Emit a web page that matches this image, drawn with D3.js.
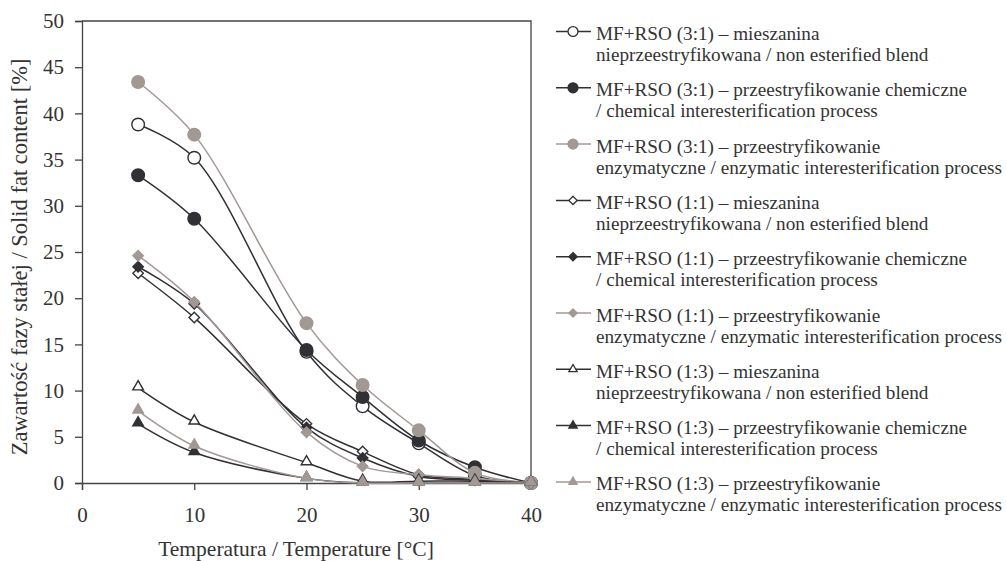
<!DOCTYPE html>
<html>
  <head>
    <title>Solid fat content</title>
    <meta charset="utf-8" />
    <style>
      body { margin: 0; background: #fff; }
    </style>
  </head>
  <body>
    <div id="chart"></div>
    <script src="https://d3js.org/d3.v7.min.js"></script>
    <script type="text/javascript">
        const temps = [5, 10, 20, 25, 30, 35, 40];
        const xTicks = [0, 10, 20, 30, 40];
        const yTicks = [0, 5, 10, 15, 20, 25, 30, 35, 40, 45, 50];

        const s31Blend = [38.8, 35.2, 14.2, 8.3, 4.3, 0.8, 0];
        const s31Chem = [33.3, 28.6, 14.4, 9.3, 4.6, 1.7, 0];
        const s31Enz = [43.4, 37.7, 17.3, 10.6, 5.7, 1.1, 0];
        const s11Blend = [22.7, 17.9, 6.4, 3.4, 0.9, 0.4, 0];
        const s11Chem = [23.4, 19.4, 6.0, 2.7, 0.7, 0.3, 0];
        const s11Enz = [24.6, 19.6, 5.5, 1.8, 0.9, 0.5, 0];
        const s13Blend = [10.3, 6.6, 2.2, 0.2, 0.2, 0.2, 0];
        const s13Chem = [6.4, 3.3, 0.5, 0, 0, 0, 0];
        const s13Enz = [7.8, 4.0, 0.5, 0, 0, 0, 0];

        const labels = [
            ["MF+RSO (3:1) – mieszanina", "nieprzeestryfikowana / non esterified blend"],
            ["MF+RSO (3:1) – przeestryfikowanie chemiczne", "/ chemical interesterification process"],
            ["MF+RSO (3:1) – przeestryfikowanie", "enzymatyczne / enzymatic interesterification process"],
            ["MF+RSO (1:1) – mieszanina", "nieprzeestryfikowana / non esterified blend"],
            ["MF+RSO (1:1) – przeestryfikowanie chemiczne", "/ chemical interesterification process"],
            ["MF+RSO (1:1) – przeestryfikowanie", "enzymatyczne / enzymatic interesterification process"],
            ["MF+RSO (1:3) – mieszanina", "nieprzeestryfikowana / non esterified blend"],
            ["MF+RSO (1:3) – przeestryfikowanie chemiczne", "/ chemical interesterification process"],
            ["MF+RSO (1:3) – przeestryfikowanie", "enzymatyczne / enzymatic interesterification process"]
        ];

        const dark = "#303035";
        const grey = "#a29894";
        const series = [
            { values: s31Blend, shape: "circle", fill: "#fff", stroke: dark, line: dark },
            { values: s31Chem, shape: "circle", fill: dark, stroke: dark, line: dark },
            { values: s31Enz, shape: "circle", fill: grey, stroke: grey, line: grey },
            { values: s11Blend, shape: "diamond", fill: "#fff", stroke: dark, line: dark },
            { values: s11Chem, shape: "diamond", fill: dark, stroke: dark, line: dark },
            { values: s11Enz, shape: "diamond", fill: grey, stroke: grey, line: grey },
            { values: s13Blend, shape: "triangle", fill: "#fff", stroke: dark, line: dark },
            { values: s13Chem, shape: "triangle", fill: dark, stroke: dark, line: dark },
            { values: s13Enz, shape: "triangle", fill: grey, stroke: grey, line: grey }
        ];

        const width = 1007;
        const height = 561;
        const margin = ({top: 21, left: 82, right: 531, bottom: 483});
        const serif = "'Liberation Serif', 'Times New Roman', Times, serif";

        const x = d3.scaleLinear().domain([0, 40]).range([margin.left, margin.right]);
        const y = d3.scaleLinear().domain([0, 50]).range([margin.bottom, margin.top]);

        const svg = d3.select("#chart")
            .append("svg")
            .attr("width", width)
            .attr("height", height)
            .attr("font-family", serif);

        // frame: top and right border
        svg.append("path")
            .attr("d", `M${margin.left},${margin.top}H${margin.right}V${margin.bottom}`)
            .attr("fill", "none")
            .attr("stroke", "#444")
            .attr("stroke-width", 1.3);

        svg.append("g")
            .attr("transform", `translate(0,${margin.bottom})`)
            .call(d3.axisBottom(x).tickValues(xTicks).tickSize(7).tickPadding(17))
            .attr("font-family", serif)
            .call(g => g.selectAll("path, line").attr("stroke", "#444").attr("stroke-width", 1.3))
            .call(g => g.selectAll("text").attr("font-size", 21).attr("fill", "#333"));

        svg.append("g")
            .attr("transform", `translate(${margin.left},0)`)
            .call(d3.axisLeft(y).tickValues(yTicks).tickSize(7).tickPadding(11))
            .attr("font-family", serif)
            .call(g => g.selectAll("path, line").attr("stroke", "#444").attr("stroke-width", 1.3))
            .call(g => g.selectAll("text").attr("font-size", 21).attr("fill", "#333"));

        svg.append("text")
            .attr("x", 296)
            .attr("y", 556)
            .attr("text-anchor", "middle")
            .attr("font-size", 21.5)
            .attr("fill", "#333")
            .text("Temperatura / Temperature [°C]");

        svg.append("text")
            .attr("transform", "translate(27,257) rotate(-90)")
            .attr("text-anchor", "middle")
            .attr("font-size", 22.5)
            .attr("fill", "#333")
            .text("Zawartość fazy stałej / Solid fat content [%]");

        const symbolFor = (shape, size) => {
            const type = shape === "circle" ? d3.symbolCircle
                : shape === "diamond" ? d3.symbolDiamond2
                : d3.symbolTriangle2;
            return d3.symbol().type(type).size(size)();
        };
        const markerSize = {circle: 125, diamond: 70, triangle: 80};

        const line = d3.line()
            .x((d, i) => x(temps[i]))
            .y(d => y(d))
            .curve(d3.curveCatmullRom.alpha(0.5));

        const lines = svg.append("g");
        series.forEach(s => {
            const g = lines.append("g");
            g.append("path")
                .attr("d", line(s.values))
                .attr("fill", "none")
                .attr("stroke", s.line)
                .attr("stroke-width", 1.5);
            g.selectAll("path.m")
                .data(s.values)
                .enter().append("path")
                .attr("class", "m")
                .attr("transform", (d, i) => `translate(${x(temps[i])},${y(d) + (s.shape === "triangle" ? -1 : 0)})`)
                .attr("d", symbolFor(s.shape, markerSize[s.shape]))
                .attr("fill", s.fill)
                .attr("stroke", s.stroke)
                .attr("stroke-width", 1.4);
        });

        // legend
        const legend = svg.append("g");
        series.forEach((s, i) => {
            const y0 = 31.5 + i * 56.3;
            const g = legend.append("g").attr("transform", `translate(0,${y0})`);
            g.append("line")
                .attr("x1", 556).attr("x2", 591)
                .attr("y1", 0).attr("y2", 0)
                .attr("stroke", s.line)
                .attr("stroke-width", 1.5);
            g.append("path")
                .attr("transform", "translate(573,0)")
                .attr("d", symbolFor(s.shape, markerSize[s.shape] * 0.62))
                .attr("fill", s.fill)
                .attr("stroke", s.stroke)
                .attr("stroke-width", 1.3);
            g.append("text")
                .attr("x", 596).attr("y", 8.5)
                .attr("font-size", 19.2)
                .attr("fill", "#333")
                .text(labels[i][0]);
            g.append("text")
                .attr("x", 596).attr("y", 29.5)
                .attr("font-size", 19.2)
                .attr("fill", "#333")
                .text(labels[i][1]);
        });
    </script>
  </body>
</html>
